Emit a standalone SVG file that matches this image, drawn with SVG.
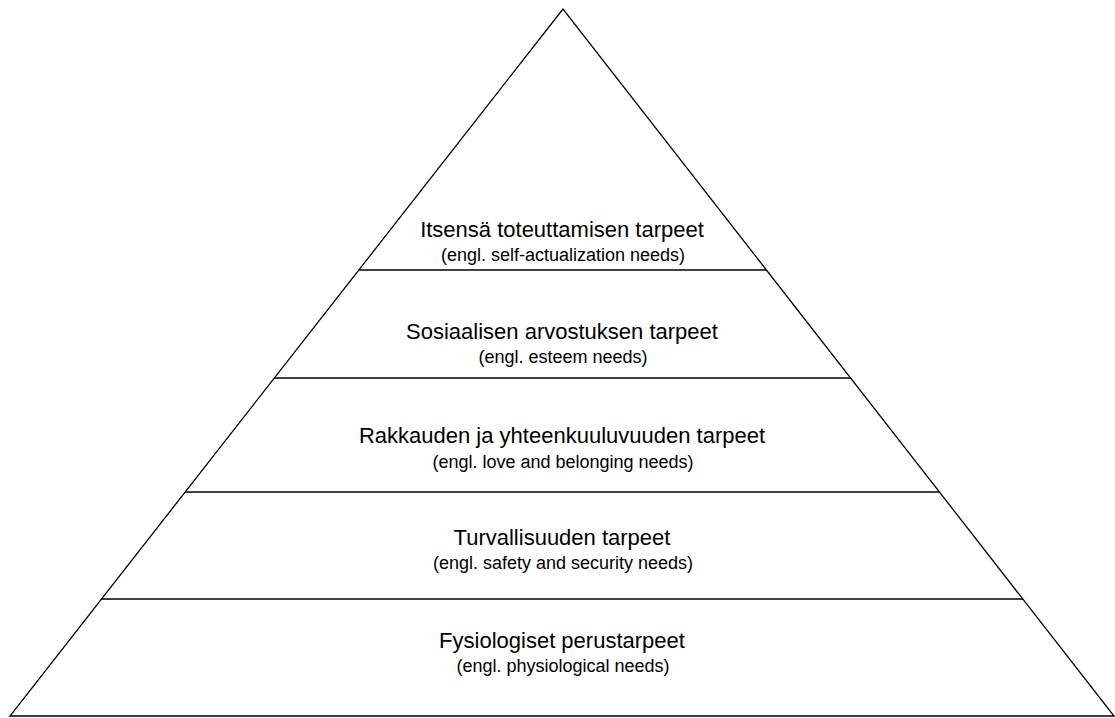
<svg xmlns="http://www.w3.org/2000/svg" width="1115" height="718" viewBox="0 0 1115 718">
<style>
.edge{fill:none;stroke:#000;stroke-width:1.3}
.t{font-family:"Liberation Sans",Arial,sans-serif;font-size:22px;fill:#000;text-anchor:middle}
.s{font-family:"Liberation Sans",Arial,sans-serif;font-size:18px;fill:#000;text-anchor:middle}
</style>
<rect width="1115" height="718" fill="#fff"/>
<g id="pyramid">
<polygon class="edge" points="563,9 10,716 1114,716"/>
</g>
<g id="connectors">
<line class="edge" x1="359" y1="270" x2="766" y2="270"/>
<line class="edge" x1="274" y1="378" x2="851" y2="378"/>
<line class="edge" x1="185" y1="492" x2="940" y2="492"/>
<line class="edge" x1="101" y1="599" x2="1023" y2="599"/>
</g>
<g id="level5">
<text class="t" x="562" y="237">Itsensä toteuttamisen tarpeet</text>
<text class="s" x="563" y="261">(engl. self-actualization needs)</text>
</g>
<g id="level4">
<text class="t" x="562" y="339">Sosiaalisen arvostuksen tarpeet</text>
<text class="s" x="563" y="363">(engl. esteem needs)</text>
</g>
<g id="level3">
<text class="t" x="562" y="443">Rakkauden ja yhteenkuuluvuuden tarpeet</text>
<text class="s" x="563" y="468">(engl. love and belonging needs)</text>
</g>
<g id="level2">
<text class="t" x="562" y="545">Turvallisuuden tarpeet</text>
<text class="s" x="563" y="569">(engl. safety and security needs)</text>
</g>
<g id="level1">
<text class="t" x="562" y="648">Fysiologiset perustarpeet</text>
<text class="s" x="563" y="672">(engl. physiological needs)</text>
</g>
</svg>
